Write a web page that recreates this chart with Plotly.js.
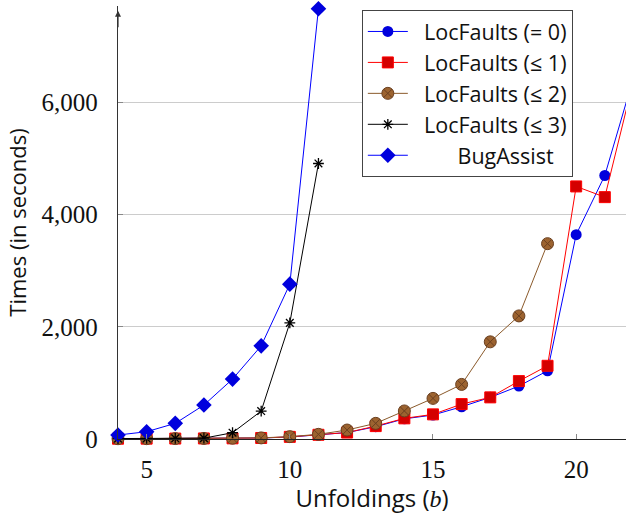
<!DOCTYPE html>
<html>
<head>
<meta charset="utf-8">
<script src="https://cdn.plot.ly/plotly-3.0.1.min.js"></script>
<style>html,body{margin:0;padding:0;background:#fff;}#chart{width:626px;height:514px;}</style>
</head>
<body>
<div id="chart"></div>
<script>
const seriesNames = ["LocFaults (= 0)", "LocFaults (≤ 1)", "LocFaults (≤ 2)", "LocFaults (≤ 3)", "\u00a0\u00a0\u00a0\u00a0\u00a0\u00a0BugAssist"];
const xLoc0 = [4,5,6,7,8,9,10,11,12,13,14,15,16,17,18,19,20,21,22];
const yLoc0 = [5,6,8,10,12,18,35,70,115,219,360,427,575,742,943,1216,3642,4697,6440];
const xLoc1 = [4,5,6,7,8,9,10,11,12,13,14,15,16,17,18,19,20,21,22];
const yLoc1 = [5,6,8,10,12,18,38,75,115,230,368,439,622,742,1032,1305,4502,4311,6390];
const xLoc2 = [4,5,6,7,8,9,10,11,12,13,14,15,16,17,18,19];
const yLoc2 = [5,6,8,10,14,20,42,83,160,279,500,724,973,1732,2194,3482];
const xLoc3 = [4,5,6,7,8,9,10,11];
const yLoc3 = [8,10,12,15,112,498,2070,4911];
const xBug = [4,5,6,7,8,9,10,11];
const yBug = [71,130,279,605,1068,1660,2760,7670];
const xTicks = [5,10,15,20];
const yTicks = [0,2000,4000,6000];
const yAxisTop = 7633;

const serif = "'Liberation Serif', 'DejaVu Serif', serif";
const sans = "'Open Sans', 'Noto Sans', sans-serif";
const lead = "\u00a0\u00a0";

const traces = [
  {x:xLoc0, y:yLoc0, name:lead + seriesNames[0], legendgroup:'a', mode:'lines+markers',
   line:{color:'#0000ff', width:1}, marker:{symbol:'circle', size:11, color:'#0000dd'}},
  {x:xLoc1, y:yLoc1, name:lead + seriesNames[1], legendgroup:'b', mode:'lines+markers',
   line:{color:'#ff0000', width:1}, marker:{symbol:'square', size:11, color:'#d40000', line:{color:'#ff0000', width:1}}},
  {x:xLoc2, y:yLoc2, name:lead + seriesNames[2], legendgroup:'c', mode:'lines+markers',
   line:{color:'#8b5a2b', width:1}, marker:{symbol:'circle-x', size:12, color:'#9c6330', line:{color:'#6b4020', width:1}}},
  {x:xLoc3, y:yLoc3, name:lead + seriesNames[3], legendgroup:'d', mode:'lines+markers',
   line:{color:'#000000', width:1}, marker:{symbol:'asterisk-open', size:9, color:'#000', line:{color:'#000', width:1.3}}},
  {x:xBug, y:yBug, name:lead + seriesNames[4], legendgroup:'e', mode:'lines+markers',
   line:{color:'#0000ff', width:1}, marker:{symbol:'diamond', size:12, color:'#0000dd'}}
];
traces.forEach(t => { t.cliponaxis = false; });

const layout = {
  width:626, height:514,
  margin:{l:118, r:0, t:6, b:75, pad:0},
  paper_bgcolor:'#fff', plot_bgcolor:'#fff',
  showlegend:true,
  legend:{x:0.48, y:0.9908, xanchor:'left', yanchor:'top', bgcolor:'#fff', bordercolor:'#444', borderwidth:1,
    font:{family:sans, size:21.5, color:'#111'}, traceorder:'grouped', tracegroupgap:0, itemwidth:40},
  xaxis:{range:[4, 21.74], tickvals:xTicks, ticktext:xTicks.map(String), showgrid:false, zeroline:false,
    showline:true, linecolor:'#222', linewidth:1.2, ticks:'inside', ticklen:5, tickcolor:'#888',
    ticklabelstandoff:8,
    tickfont:{family:serif, size:25, color:'#111'},
    title:{text:"Unfoldings (<span style=\"font-family:'Liberation Serif';font-style:italic\">b</span>)", font:{family:sans, size:24, color:'#111'}, standoff:4}},
  yaxis:{range:[0, 7718], tickvals:yTicks, ticktext:yTicks.map(v => v.toLocaleString('en-US')), showgrid:true, gridcolor:'#cccccc', gridwidth:1,
    zeroline:false, showline:true, linecolor:'#333', linewidth:1.2, ticks:'inside', ticklen:5, tickcolor:'#888',
    ticklabelstandoff:14,
    tickfont:{family:serif, size:25, color:'#111'},
    title:{text:'Times (in seconds)\u00a0\u00a0\u00a0\u00a0\u00a0', font:{family:sans, size:22, color:'#111'}, standoff:8}},
  annotations:[{x:4, xref:'x', y:yAxisTop, yref:'y', ax:0, ay:18, axref:'pixel', ayref:'pixel', text:'', showarrow:true,
    arrowhead:2, arrowsize:1, arrowwidth:1.2, arrowcolor:'#333', standoff:0}]
};

Plotly.newPlot('chart', traces, layout, {displayModeBar:false, staticPlot:true});
</script>
</body>
</html>
